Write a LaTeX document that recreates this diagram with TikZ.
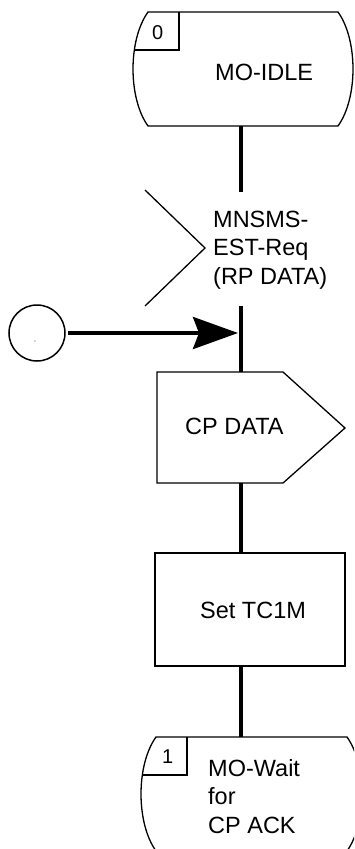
\documentclass[tikz,border=0pt]{standalone}
\usepackage{fontspec}
\setmainfont{Liberation Sans}
\usetikzlibrary{arrows.meta}
\begin{document}
\begin{tikzpicture}[x=1pt,y=-1pt,
  outline/.style={draw=black, line width=1.3pt, line join=miter},
  flow/.style={draw=black, line width=4pt},
  lbl/.style={inner sep=0pt, anchor=base west, font=\fontsize{23.5}{28.5}\selectfont, align=left},
  numlbl/.style={inner sep=0pt, anchor=base west, font=\fontsize{20}{24}\selectfont},
]
\useasboundingbox (0,0) rectangle (354,849);
\begin{scope}
\clip (0,0) rectangle (354,849);
% state 0
\draw[outline] (148,12) -- (338,12) .. controls (358,40) and (358,98) .. (338,126) -- (148,126) .. controls (128,98) and (128,40) .. (148,12) -- cycle;
\draw[outline] (134.4,50) -- (179,50) -- (179,12);
\node[numlbl] (n0) at (152,39) {0};
\node[lbl] (s0) at (215,80) {MO-IDLE};
% input
\draw[outline] (145,190) -- (205,248) -- (145,306);
\node[lbl] (inp) at (213,284) {MNSMS-\\EST-Req\\(RP DATA)};
% connector circle
\node[circle, draw=black, line width=1.5pt, minimum size=56pt, inner sep=0pt] (conn) at (37,333) {};
\node[inner sep=0pt, font=\fontsize{2.5}{3}\selectfont] (connlbl) at (35,342) {1};
% output
\draw[outline] (157,372) -- (283,372) -- (345,428) -- (283,483) -- (157,483) -- cycle;
\node[lbl] (out) at (185,434) {CP DATA};
% task
\draw[outline] (155,553) rectangle (345,666);
\node[lbl] (task) at (200,618) {Set TC1M};
% state 1
\draw[outline] (156,737) -- (347,737) .. controls (367,765) and (367,823) .. (347,851) -- (156,851) .. controls (136,823) and (136,765) .. (156,737) -- cycle;
\draw[outline] (142.4,775) -- (187,775) -- (187,737);
\node[numlbl] (n1) at (162,763) {1};
\node[lbl] (s1) at (208,833) {MO-Wait\\for\\CP ACK};
% flow line
\coordinate (pa) at (241,126);
\coordinate (pb) at (241,192);
\coordinate (pc) at (241,306);
\coordinate (pd) at (241,372);
\coordinate (pe) at (241,483);
\coordinate (pf) at (241,553);
\coordinate (pg) at (241,666);
\coordinate (ph) at (241,737);
\coordinate (tip) at (238,333);
\coordinate (cstart) at (68,333);
\draw[flow] (pa) -- (pb);
\draw[flow] (pc) -- (pd);
\draw[flow] (pe) -- (pf);
\draw[flow] (pg) -- (ph);
\draw[flow, -{Stealth[length=45pt,width=32pt,inset=6pt]}] (cstart) -- (tip);
\end{scope}
\end{tikzpicture}
\end{document}
